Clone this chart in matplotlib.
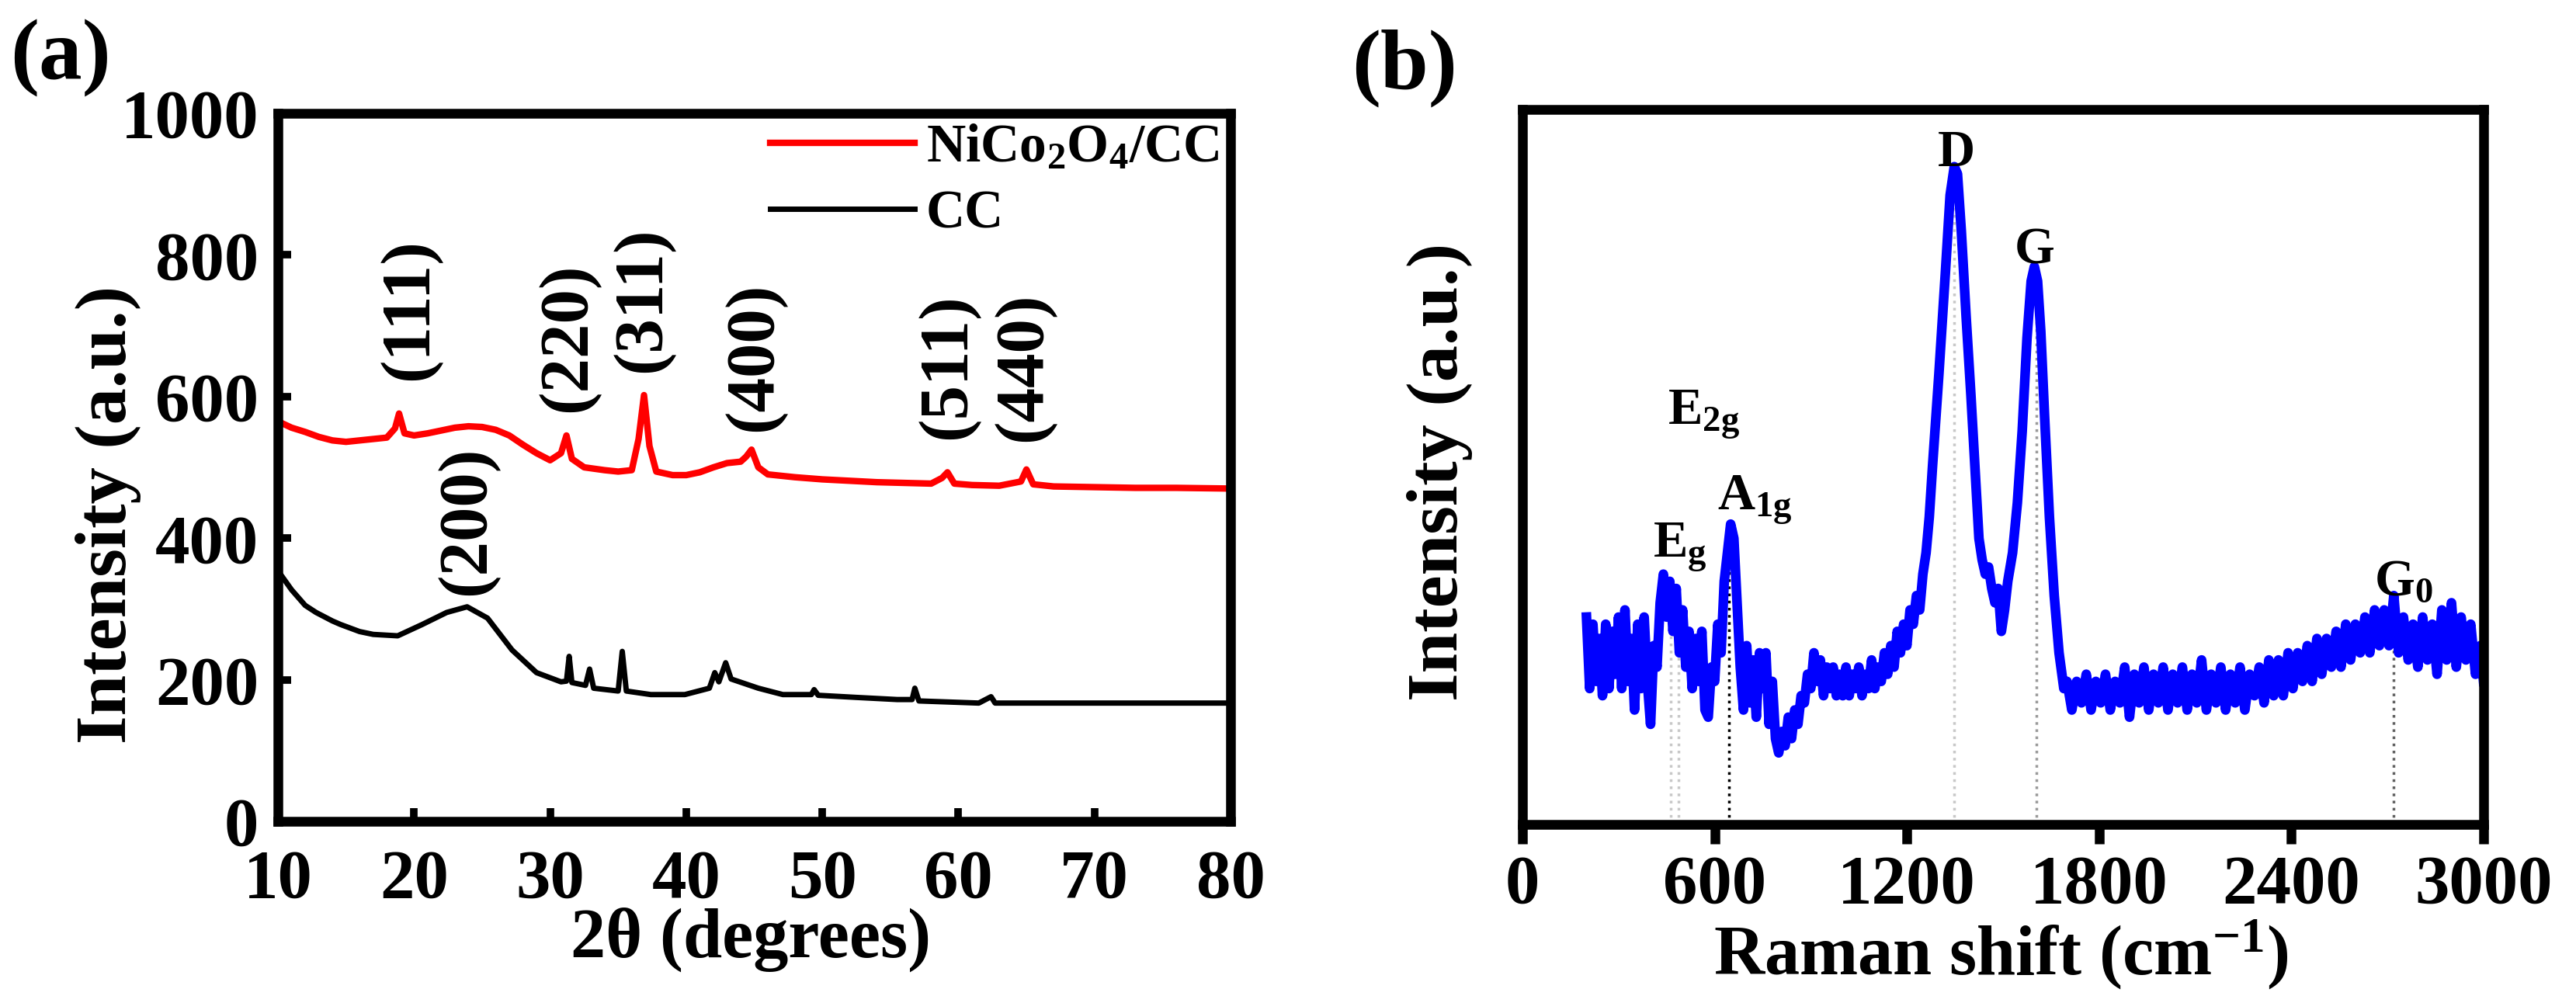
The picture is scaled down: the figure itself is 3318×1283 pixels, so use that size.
import matplotlib
matplotlib.use("Agg")
import matplotlib.pyplot as plt

plt.rcParams['font.family'] = ['Liberation Serif', 'DejaVu Serif']
plt.rcParams['font.weight'] = 'bold'
plt.rcParams['axes.labelweight'] = 'bold'
plt.rcParams['mathtext.fontset'] = 'custom'
plt.rcParams['mathtext.rm'] = 'Liberation Serif:bold'
plt.rcParams['mathtext.it'] = 'Liberation Serif:bold'
plt.rcParams['mathtext.bf'] = 'Liberation Serif:bold'

# ---- (a) XRD data: (2theta, intensity) ----
nico_pts = [(10, 565), (11, 556), (12, 550), (13, 543), (14, 538), (15, 536), (16, 538),
            (17, 540), (18, 542), (18.6, 555), (18.9, 576), (19.3, 548), (20, 545), (21, 548),
            (22, 552), (23, 556), (24, 558), (25, 557), (26, 553), (27, 545), (28, 532),
            (29, 520), (30, 510), (30.8, 520), (31.2, 545), (31.6, 512), (32.5, 500), (34, 496),
            (35, 494), (36.0, 496), (36.5, 540), (36.9, 602), (37.3, 530), (37.8, 494), (39, 489),
            (40, 489), (41, 493), (42, 500), (43, 506), (44, 508), (44.4, 515), (44.8, 525),
            (45.3, 500), (46, 490), (48, 486), (50, 483), (52, 481), (54, 479), (56, 478),
            (58, 477), (58.8, 485), (59.2, 493), (59.7, 477), (61, 475), (63, 474), (64.6, 480),
            (65.0, 497), (65.5, 476), (67, 473), (70, 472), (73, 471), (76, 471), (80, 470)]
cc_pts = [(10, 354), (11, 327), (12, 305), (12.8, 295), (14, 283), (14.6, 278), (16, 268),
          (17, 264), (18.8, 262), (20.6, 278), (22.4, 295), (23.9, 303), (25.4, 287),
          (27.2, 242), (29.0, 210), (30.8, 197), (31.2, 198), (31.4, 233), (31.6, 196),
          (32.6, 192), (32.9, 215), (33.2, 188), (35.0, 184), (35.3, 240), (35.6, 184),
          (37.4, 179), (39.9, 179), (41.7, 188), (42.1, 210), (42.4, 197), (42.9, 224),
          (43.3, 201), (45.3, 188), (47.1, 179), (49.2, 179), (49.4, 186), (49.7, 178),
          (52.5, 175), (55.5, 172), (56.6, 172), (56.8, 188), (57.1, 170), (61.5, 167),
          (62.4, 176), (62.7, 167), (67.5, 167), (80, 167)]

hkl_labels = ['(111)', '(200)', '(220)', '(311)', '(400)', '(511)', '(440)']
hkl_x = [19.7, 23.9, 31.3, 36.8, 45.0, 59.2, 64.8]
hkl_y = [723, 425, 683, 737, 656, 642, 642]

# ---- (b) Raman data: (shift, normalised intensity) ----
raman_pts = [(200, 0.29), (210, 0.19), (220, 0.28), (230, 0.20), (240, 0.26), (250, 0.18),
             (260, 0.28), (270, 0.19), (280, 0.27), (290, 0.21), (300, 0.29), (310, 0.19),
             (320, 0.30), (330, 0.20), (340, 0.26), (350, 0.16), (360, 0.28), (370, 0.19),
             (380, 0.29), (390, 0.20), (400, 0.14), (410, 0.25), (420, 0.22), (430, 0.31),
             (440, 0.35), (450, 0.29), (460, 0.34), (470, 0.27), (480, 0.33), (490, 0.24),
             (500, 0.30), (510, 0.22), (520, 0.27), (530, 0.19), (540, 0.26), (550, 0.20),
             (560, 0.27), (570, 0.16), (580, 0.15), (590, 0.22), (600, 0.20), (610, 0.28),
             (620, 0.24), (630, 0.34), (640, 0.38), (650, 0.42), (660, 0.40), (670, 0.31),
             (680, 0.22), (690, 0.16), (700, 0.25), (710, 0.17), (720, 0.23), (730, 0.15),
             (740, 0.24), (750, 0.19), (760, 0.24), (770, 0.14), (780, 0.20), (790, 0.12),
             (800, 0.10), (810, 0.13), (820, 0.11), (830, 0.15), (840, 0.12), (850, 0.16),
             (860, 0.14), (870, 0.18), (880, 0.17), (890, 0.21), (900, 0.19), (910, 0.24),
             (920, 0.20), (930, 0.23), (940, 0.18), (950, 0.22), (960, 0.19), (970, 0.22),
             (980, 0.18), (990, 0.21), (1000, 0.18), (1010, 0.22), (1020, 0.18), (1030, 0.21),
             (1040, 0.19), (1050, 0.22), (1060, 0.18), (1070, 0.21), (1080, 0.19), (1090, 0.23),
             (1100, 0.19), (1110, 0.22), (1120, 0.20), (1130, 0.24), (1140, 0.21), (1150, 0.25),
             (1160, 0.22), (1170, 0.27), (1180, 0.24), (1190, 0.28), (1200, 0.25), (1210, 0.30),
             (1220, 0.28), (1230, 0.32), (1240, 0.30), (1250, 0.35), (1260, 0.38), (1270, 0.43),
             (1280, 0.50), (1300, 0.63), (1320, 0.77), (1335, 0.88), (1348, 0.92), (1358, 0.91),
             (1370, 0.83), (1385, 0.71), (1400, 0.60), (1415, 0.48), (1425, 0.40), (1435, 0.37),
             (1445, 0.35), (1455, 0.36), (1465, 0.33), (1475, 0.31), (1485, 0.33), (1495, 0.27),
             (1505, 0.30), (1515, 0.34), (1530, 0.38), (1545, 0.45), (1560, 0.55), (1575, 0.68),
             (1588, 0.76), (1598, 0.78), (1608, 0.76), (1618, 0.69), (1630, 0.57), (1645, 0.43),
             (1660, 0.32), (1675, 0.24), (1690, 0.19), (1700, 0.20), (1715, 0.16), (1730, 0.20),
             (1745, 0.17), (1760, 0.21), (1775, 0.16), (1790, 0.20), (1805, 0.17), (1820, 0.21),
             (1835, 0.16), (1850, 0.20), (1865, 0.17), (1880, 0.22), (1895, 0.15), (1910, 0.21),
             (1925, 0.17), (1940, 0.22), (1955, 0.16), (1970, 0.21), (1985, 0.17), (2000, 0.22),
             (2015, 0.16), (2030, 0.21), (2045, 0.17), (2060, 0.22), (2075, 0.16), (2090, 0.21),
             (2105, 0.17), (2120, 0.23), (2135, 0.16), (2150, 0.21), (2165, 0.17), (2180, 0.22),
             (2195, 0.16), (2210, 0.21), (2225, 0.17), (2240, 0.22), (2255, 0.16), (2270, 0.21),
             (2285, 0.18), (2300, 0.22), (2315, 0.17), (2330, 0.23), (2345, 0.18), (2360, 0.23),
             (2375, 0.18), (2390, 0.24), (2405, 0.19), (2420, 0.24), (2435, 0.20), (2450, 0.25),
             (2465, 0.20), (2480, 0.26), (2495, 0.21), (2510, 0.26), (2525, 0.22), (2540, 0.27),
             (2555, 0.22), (2570, 0.28), (2585, 0.23), (2600, 0.28), (2615, 0.24), (2630, 0.29),
             (2645, 0.24), (2660, 0.30), (2675, 0.25), (2690, 0.30), (2705, 0.25), (2720, 0.32),
             (2735, 0.24), (2750, 0.29), (2765, 0.23), (2780, 0.28), (2795, 0.22), (2810, 0.29),
             (2825, 0.23), (2840, 0.28), (2855, 0.21), (2870, 0.30), (2885, 0.23), (2900, 0.31),
             (2915, 0.22), (2930, 0.29), (2945, 0.23), (2960, 0.28), (2975, 0.21), (2990, 0.25),
             (3000, 0.20)]

# dotted guide lines: position, top, colour
guide_x = [463, 487, 645, 1347, 1604, 2718]
guide_top = [0.27, 0.27, 0.40, 0.90, 0.77, 0.29]
guide_col = ['#c8c8c8', '#c8c8c8', '#000000', '#c8c8c8', '#9a9a9a', '#606060']

mode_labels = ['D', 'G', r'E$_{2g}$', r'A$_{1g}$', r'E$_{g}$', r'G$_{0}$']
mode_x = [1355, 1598, 453, 608, 408, 2658]
mode_y = [0.921, 0.784, 0.559, 0.440, 0.374, 0.321]
mode_ha = ['center', 'center', 'left', 'left', 'left', 'left']


fig = plt.figure(figsize=(33.18, 12.83), dpi=100)

# ---------------- panel (a) ----------------
ax1 = fig.add_axes([0.1079, 0.1754, 0.3698, 0.7108])
ax1.plot([p[0] for p in nico_pts], [p[1] for p in nico_pts], color='red', lw=6,
         label=r'NiCo$_2$O$_4$/CC')
ax1.plot([p[0] for p in cc_pts], [p[1] for p in cc_pts], color='black', lw=5,
         label='CC')
ax1.set_xlim(10, 80)
ax1.set_ylim(0, 1000)
ax1.set_xticks(range(10, 81, 10))
ax1.set_yticks(range(0, 1001, 200))
ax1.tick_params(direction='in', length=12, width=7, labelsize=64, top=False, right=False)
ax1.tick_params(axis='x', pad=26)
ax1.tick_params(axis='y', pad=18)
for s in ax1.spines.values():
    s.set_linewidth(9)
for lab, x, y in zip(hkl_labels, hkl_x, hkl_y):
    ax1.text(x, y, lab, rotation=90, ha='center', va='center', fontsize=64)
ax1.legend(loc='upper left', bbox_to_anchor=(0.517, 0.985), frameon=False, fontsize=50,
           borderpad=0, borderaxespad=0, handlelength=2.67, handletextpad=0.22,
           labelspacing=0.3)
ax1.set_xlabel('2θ (degrees)', fontsize=65, fontweight='bold', va='baseline')
ax1.xaxis.set_label_coords(0.496, -0.192)
ax1.set_ylabel('Intensity (a.u.)', fontsize=68, fontweight='bold', va='center')
ax1.yaxis.set_label_coords(-0.178, 0.433)
fig.text(13 / 3318, 1 - 75 / 1283, '(a)', fontsize=80, ha='left', va='center')

# ---------------- panel (b) ----------------
ax2 = fig.add_axes([0.5910, 0.1723, 0.3731, 0.7178])
for gx, gt, gc in zip(guide_x, guide_top, guide_col):
    ax2.plot([gx, gx], [0, gt], color=gc, lw=2.5, ls=':', zorder=1)
ax2.plot([p[0] for p in raman_pts], [p[1] for p in raman_pts], color='#0000ff', lw=9,
         zorder=2)
ax2.set_xlim(0, 3000)
ax2.set_ylim(0, 1)
ax2.set_xticks(range(0, 3001, 600))
ax2.set_yticks([])
ax2.tick_params(axis='x', direction='out', length=18, width=9, labelsize=64, pad=10)
for s in ax2.spines.values():
    s.set_linewidth(9)
for lab, x, y, ha in zip(mode_labels, mode_x, mode_y, mode_ha):
    ax2.text(x, y, lab, ha=ha, va='baseline', fontsize=48)
ax2.set_xlabel(r'Raman shift (cm$^{-1}$)', fontsize=65, fontweight='bold', va='baseline')
ax2.xaxis.set_label_coords(0.498, -0.210)
ax2.set_ylabel('Intensity (a.u.)', fontsize=68, fontweight='bold', va='center')
ax2.yaxis.set_label_coords(-0.086, 0.493)
fig.text(1741 / 3318, 1 - 88 / 1283, '(b)', fontsize=80, ha='left', va='center')

fig.savefig('out.png', dpi=100)
